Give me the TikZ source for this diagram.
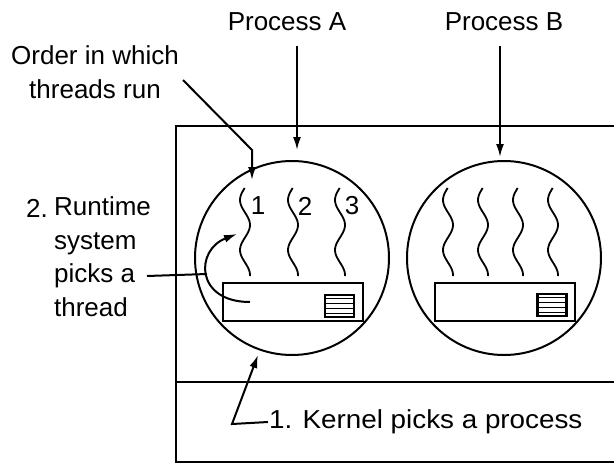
\documentclass[tikz,border=0pt]{standalone}
\usepackage{fontspec}
\setmainfont{Liberation Sans}
\usetikzlibrary{arrows.meta,calc}
\begin{document}
\begin{tikzpicture}[x=1pt,y=-1pt,
  line width=2.2pt,
  lbl/.style={inner sep=0pt,font=\fontsize{26}{33.5}\selectfont},
  ptr/.style={line width=2pt,-{Latex[length=13pt,width=8pt]}},
  thr/.style={line width=1.8pt},
  tbox/.style={draw,line width=2.2pt},
  sbox/.style={draw,line width=2.4pt}]
\useasboundingbox (0,0) rectangle (614,464);
% outer box (extends past right edge)
\draw (614,126) -- (176,126) -- (176,462) -- (614,462);
\draw (176,382) -- (614,382);
% processes
\node[circle,draw,line width=2pt,minimum size=194pt,inner sep=0pt] (pa) at (292,258) {};
\node[circle,draw,line width=2pt,minimum size=194pt,inner sep=0pt] (pb) at (504,258) {};
% thread tables
\node[tbox,minimum width=140pt,minimum height=38pt,inner sep=0pt] (ta) at (293,302) {};
\node[tbox,minimum width=140pt,minimum height=38pt,inner sep=0pt] (tb) at (505,302) {};
\node[sbox,minimum width=29pt,minimum height=22pt,inner sep=0pt] (sa) at (339.5,306) {};
\node[sbox,minimum width=29pt,minimum height=22pt,inner sep=0pt] (sb) at (552,305) {};
\foreach \s in {sa,sb}{
  \foreach \f in {0.2,0.4,0.6,0.8}{
    \draw[line width=1.4pt] ($(\s.south west)!\f!(\s.north west)$) -- ($(\s.south east)!\f!(\s.north east)$);
  }
}
% threads
\foreach \c in {245,293,340,448,483,518,553}{
  \draw[thr] plot[domain=188:276,samples=45,smooth] ({\c-5*cos(180*(\x-200)/25)},\x);
}
\node[lbl] (n1) at (258,206) {1};
\node[lbl] (n2) at (305,206) {2};
\node[lbl] (n3) at (352,206) {3};
% labels
\node[lbl] (lA) at (287,22) {Process A};
\node[lbl] (lB) at (504,22) {Process B};
\coordinate (sA) at (297,46);
\coordinate (atA) at (297,150);
\coordinate (sB) at (500,46);
\coordinate (atB) at (500,157);
\draw[ptr] (sA) -- (atA);
\draw[ptr] (sB) -- (atB);
\node[lbl,align=center] (ord) at (95,72) {Order in which\\threads run};
\coordinate (o1) at (183,80);
\coordinate (o2) at (252,150);
\coordinate (o3) at (252,180);
\draw[ptr] (o1) -- (o2) -- (o3);
\node[lbl,anchor=west] (two) at (25,208) {2.};
\node[lbl,align=left,anchor=north west] (rt) at (53,196) {Runtime\\system\\picks a\\thread};
\coordinate (p1) at (147,276);
\coordinate (p2) at (207,274);
\draw[line width=2pt] (p1) -- (p2);
\coordinate (c1) at (250,302);
\coordinate (c2) at (237,234);
\draw[ptr] (c1) .. controls (195,302) and (195,250) .. (c2);
\node[lbl,anchor=west] (k) at (268,422) {\scalebox{1.07}[1]{1. Kernel picks a process}};
\coordinate (k1) at (232,424);
\coordinate (k2) at (258,355);
\draw[ptr] (k.west) -- (k1) -- (k2);
\end{tikzpicture}
\end{document}
